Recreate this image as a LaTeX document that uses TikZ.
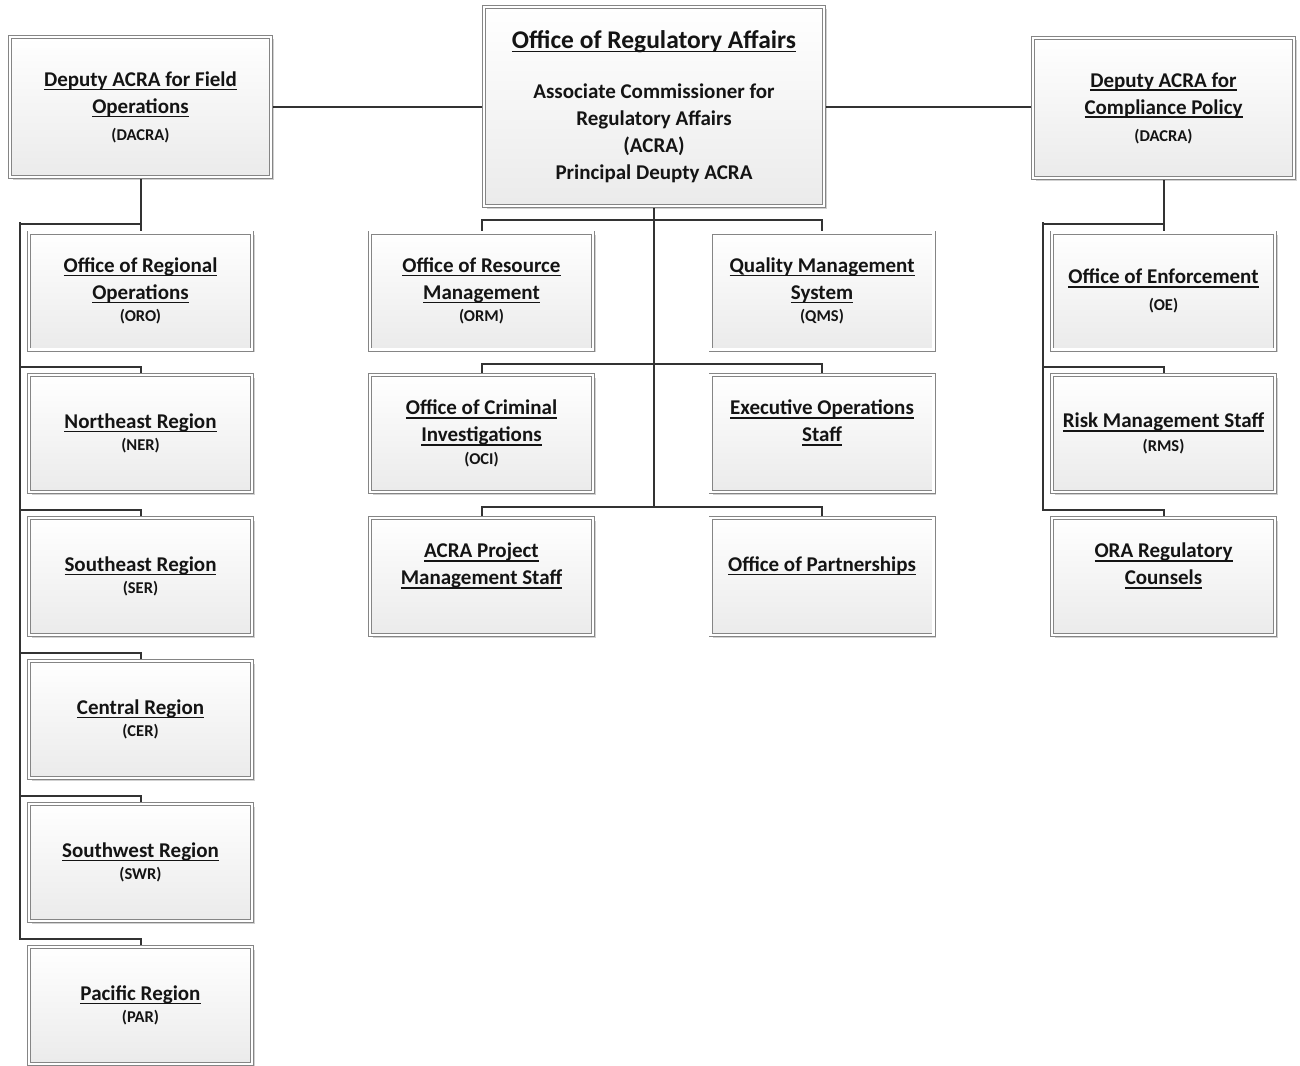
\documentclass[tikz,border=0pt]{standalone}
\usepackage{fontspec}
\setmainfont{Carlito}
\usetikzlibrary{shadows,backgrounds}

% underline with a fixed offset below the baseline
\newsavebox\ulinebox
\newcommand\uline[1]{\leavevmode\sbox\ulinebox{#1}\rlap{\rule[-4pt]{\wd\ulinebox}{1.6pt}}\usebox\ulinebox}
\newcommand\acr{\fontsize{16.5}{19}\selectfont}

\tikzset{
  unit/.style={rectangle, draw=black!48, line width=0.8pt, double=white,
    double distance=2.4pt, top color=white, bottom color=black!8,
    drop shadow={shadow xshift=2.5pt, shadow yshift=-2.5pt, fill=black, opacity=0.18},
    align=center, inner sep=0pt, text=black!92,
    font=\bfseries\fontsize{21}{27}\selectfont},
  unitbox/.style={unit, minimum width=223pt, minimum height=117pt},
  topbox/.style={unit, minimum width=261pt, minimum height=140pt},
  link/.style={draw=black!80, line width=2pt}
}

\begin{document}
\begin{tikzpicture}[x=1pt,y=-1pt]
\clip (0,0) rectangle (1300,1065);
\useasboundingbox (0,0) rectangle (1300,1065);

% top level
\node[unit, minimum width=340pt, minimum height=199pt] (ora) at (654,106.5)
  {{\fontsize{25.5}{27}\selectfont\uline{Office of Regulatory Affairs}}\\[23pt]
   Associate Commissioner for\\ Regulatory Affairs\\ (ACRA)\\ Principal Deupty ACRA};
\node[topbox] (dfo) at (140.5,107)
  {\uline{Deputy ACRA for Field}\\ \uline{Operations}\\[0pt] {\acr (DACRA)}};
\node[topbox] (dcp) at (1163.5,108)
  {\uline{Deputy ACRA for}\\ \uline{Compliance Policy}\\[0pt] {\acr (DACRA)}};

% field operations column
\node[unitbox] (oro) at (140.5,291)
  {\uline{Office of Regional}\\ \uline{Operations}\\[-4.5pt] {\acr (ORO)}};
\node[unitbox] (ner) at (140.5,433.5) {\uline{Northeast Region}\\[-4.5pt] {\acr (NER)}};
\node[unitbox] (ser) at (140.5,576.5) {\uline{Southeast Region}\\[-4.5pt] {\acr (SER)}};
\node[unitbox] (cer) at (140.5,719.5) {\uline{Central Region}\\[-4.5pt] {\acr (CER)}};
\node[unitbox] (swr) at (140.5,862.5) {\uline{Southwest Region}\\[-4.5pt] {\acr (SWR)}};
\node[unitbox] (par) at (140.5,1005.5) {\uline{Pacific Region}\\[-4.5pt] {\acr (PAR)}};

% offices under the ACRA
\node[unitbox] (orm) at (481.5,291)
  {\uline{Office of Resource}\\ \uline{Management}\\[-4.5pt] {\acr (ORM)}};
\node[unitbox] (qms) at (822,291)
  {\uline{Quality Management}\\ \uline{System}\\[-4.5pt] {\acr (QMS)}};
\node[unitbox] (oci) at (481.5,433.5)
  {\uline{Office of Criminal}\\ \uline{Investigations}\\[-4.5pt] {\acr (OCI)}};
\node[unitbox] (eos) at (822,433.5)
  {\uline{Executive Operations}\\ \uline{Staff}\\[-2pt] \mbox{}};
\node[unitbox] (apm) at (481.5,576.5)
  {\uline{ACRA Project}\\ \uline{Management Staff}\\[-2pt] \mbox{}};
\node[unitbox] (opa) at (822,576.5)
  {\uline{Office of Partnerships}\\[-2pt] \mbox{}};

% compliance policy column
\node[unitbox] (oe) at (1163.5,291) {\uline{Office of Enforcement}\\[0pt] {\acr (OE)}};
\node[unitbox] (rms) at (1163.5,433.5) {\uline{Risk Management Staff}\\[-3pt] {\acr (RMS)}};
\node[unitbox] (orc) at (1163.5,576.5)
  {\uline{ORA Regulatory}\\ \uline{Counsels}\\[-2pt] \mbox{}};

% connectors, kept behind the boxes
\begin{scope}[on background layer]
  \fill[white] (0,0) rectangle (1300,1065);
  \coordinate (lbus) at (20,222);
  \coordinate (rbus) at (1043,222);
  \coordinate (mbus) at (ora.south |- 0,506);

  \draw[link] (ora.west) -- (ora.west -| dfo.east);
  \draw[link] (ora.east) -- (ora.east -| dcp.west);

  \draw[link] (dfo.south) -- (oro.north);
  \draw[link] (oro.north) -- ++(0,-8) -| (lbus);
  \foreach \b in {ner,ser,cer,swr,par}
    \draw[link] (\b.north) -- ++(0,-8) -| (lbus);

  \draw[link] (ora.south) -- (mbus);
  \draw[link] (orm.north) -- ++(0,-12) -| (qms.north);
  \draw[link] (oci.north) -- ++(0,-11) -| (eos.north);
  \draw[link] (apm.north) -- ++(0,-11) -| (opa.north);

  \draw[link] (dcp.south) -- (oe.north);
  \foreach \b in {oe,rms,orc}
    \draw[link] (\b.north) -- ++(0,-8) -| (rbus);
\end{scope}
\end{tikzpicture}
\end{document}
